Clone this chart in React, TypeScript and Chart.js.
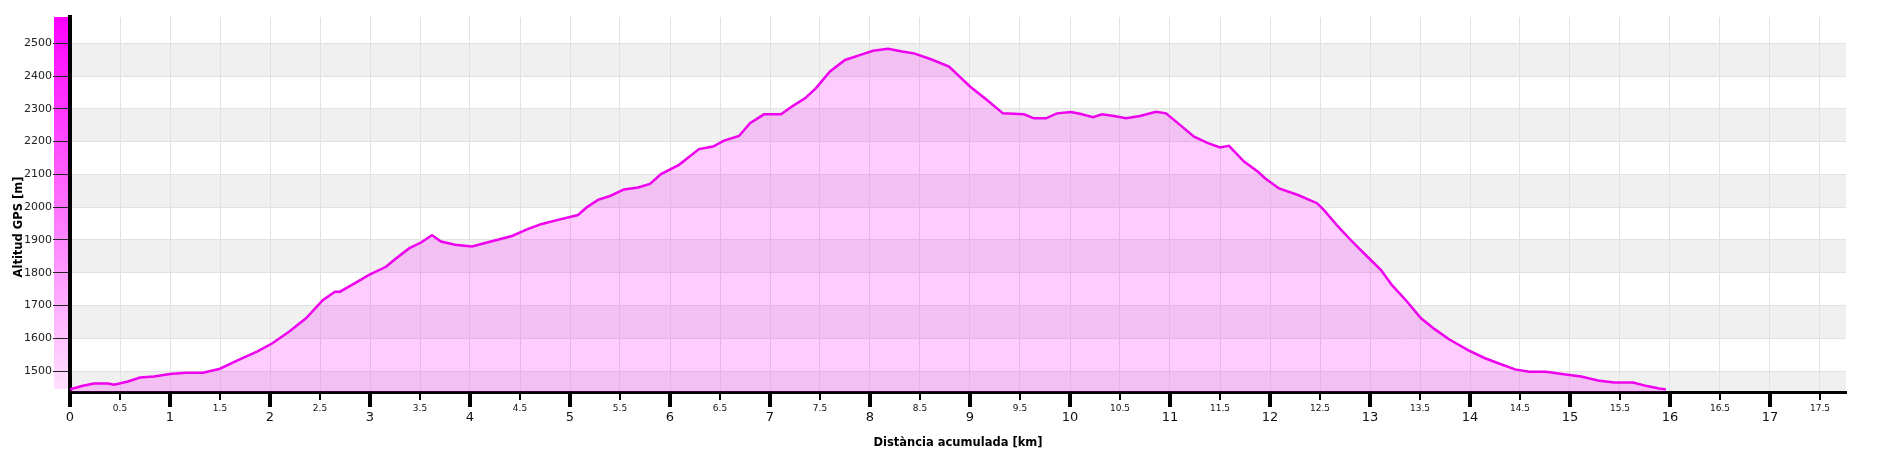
import React, { useEffect, useRef } from "react";
import { Chart, registerables } from "chart.js";

Chart.register(...registerables);

const distancesKm = [
  0, 0.13, 0.24, 0.38, 0.44, 0.58, 0.7, 0.84, 1.0, 1.16, 1.33, 1.5, 1.67, 1.87, 2.02, 2.19, 2.36, 2.53, 2.65, 2.7,
  2.85, 2.99, 3.16, 3.25, 3.39, 3.51, 3.62, 3.71, 3.85, 4.02, 4.17, 4.42, 4.57, 4.71, 4.88, 5.08, 5.17, 5.28, 5.4, 5.54,
  5.68, 5.8, 5.91, 6.09, 6.29, 6.43, 6.54, 6.69, 6.8, 6.94, 7.11, 7.23, 7.35, 7.46, 7.6, 7.75, 7.92, 8.03, 8.18, 8.32,
  8.44, 8.61, 8.79, 9.0, 9.17, 9.33, 9.54, 9.64, 9.76, 9.87, 10.01, 10.11, 10.23, 10.32, 10.44, 10.56, 10.7, 10.86, 10.96, 11.1,
  11.24, 11.38, 11.5, 11.59, 11.74, 11.88, 11.95, 12.09, 12.28, 12.47, 12.54, 12.68, 12.8, 12.89, 12.99, 13.11, 13.22, 13.37, 13.51, 13.65,
  13.79, 13.98, 14.15, 14.29, 14.45, 14.59, 14.76, 14.92, 15.11, 15.28, 15.44, 15.63, 15.77, 15.89, 15.96,
];

const altitudesM = [
  1444, 1455, 1462, 1462, 1458, 1468, 1480, 1483, 1491, 1495, 1495, 1507, 1532, 1559, 1584, 1620, 1661, 1717, 1742, 1742,
  1768, 1793, 1818, 1841, 1874, 1892, 1914, 1895, 1885, 1880, 1892, 1912, 1932, 1948, 1961, 1976, 2000, 2022, 2034, 2054,
  2060, 2071, 2101, 2129, 2177, 2185, 2203, 2217, 2256, 2283, 2283, 2309, 2332, 2363, 2414, 2449, 2466, 2477, 2483, 2475,
  2469, 2451, 2429, 2368, 2327, 2286, 2283, 2271, 2271, 2286, 2290, 2284, 2274, 2283, 2278, 2271, 2278, 2291, 2286, 2251,
  2215, 2195, 2182, 2187, 2139, 2108, 2088, 2057, 2037, 2012, 1991, 1941, 1902, 1874, 1844, 1808, 1762, 1712, 1661, 1627,
  1597, 1564, 1539, 1523, 1505, 1498, 1498, 1491, 1483, 1471, 1465, 1465, 1454, 1447, 1444,
];

const xAxisTitle = "Distància acumulada [km]";
const yAxisTitle = "Altitud GPS [m]";
const xRange = [0, 17.76];
const yRange = [1436, 2580];
const xStep = 0.5;
const yStep = 100;

const FONT = "'DejaVu Sans', Tahoma, Verdana, sans-serif";

const decorPlugin = {
  id: "decor",
  beforeDraw(chart: any) {
    const { ctx, chartArea } = chart;
    const y = chart.scales.y;
    ctx.save();
    ctx.fillStyle = "#f0f0f0";
    y.ticks.forEach((t: any) => {
      const v = t.value;
      if (Math.round(v / yStep) % 2 === 1) {
        const top = Math.max(y.getPixelForValue(v), chartArea.top);
        const bot = Math.min(y.getPixelForValue(v - yStep), chartArea.bottom);
        ctx.fillRect(chartArea.left, top, chartArea.right - chartArea.left, bot - top);
      }
    });
    const g = ctx.createLinearGradient(0, chartArea.top, 0, chartArea.bottom);
    g.addColorStop(0, "#ff00ff");
    g.addColorStop(1, "#ffe2ff");
    ctx.fillStyle = g;
    ctx.fillRect(chartArea.left - 16, chartArea.top, 14, chartArea.bottom - chartArea.top - 3);
    ctx.restore();
  },
  afterDraw(chart: any) {
    const { ctx, chartArea } = chart;
    const x = chart.scales.x;
    ctx.save();
    ctx.fillStyle = "#000";
    x.ticks.forEach((t: any) => {
      const px = x.getPixelForValue(t.value);
      const major = Math.abs(t.value - Math.round(t.value)) < 1e-6;
      if (major) ctx.fillRect(Math.round(px) - 2, chartArea.bottom, 4, 15);
      else ctx.fillRect(Math.round(px) - 1, chartArea.bottom, 2, 8);
    });
    ctx.fillStyle = "#000";
    ctx.font = `bold 11.5px ${FONT}`;
    ctx.textAlign = "center";
    ctx.textBaseline = "middle";
    ctx.fillText(xAxisTitle, (chartArea.left + chartArea.right) / 2, chartArea.bottom + 51);
    ctx.translate(19, chartArea.top + 210);
    ctx.rotate(-Math.PI / 2);
    ctx.font = `bold 11.5px ${FONT}`;
    ctx.fillText(yAxisTitle, 0, 0);
    ctx.restore();
  },
};

export default function App() {
  const ref = useRef<HTMLCanvasElement | null>(null);
  useEffect(() => {
    if (!ref.current) return;
    const points = distancesKm.map((d, i) => ({ x: d, y: altitudesM[i] }));
    const chart = new Chart(ref.current, {
      type: "line",
      data: {
        datasets: [
          {
            data: points,
            borderColor: "#ee00ee",
            borderWidth: 2.5,
            backgroundColor: "rgba(255,0,255,0.2)",
            fill: "start",
            pointRadius: 0,
            tension: 0,
          },
        ],
      },
      options: {
        animation: false,
        responsive: false,
        devicePixelRatio: 1,
        layout: { padding: { top: 17, right: 31, left: 0, bottom: 0 } },
        plugins: { legend: { display: false }, tooltip: { enabled: false } },
        scales: {
          x: {
            type: "linear",
            min: xRange[0],
            max: xRange[1],
            afterFit: (s: any) => {
              s.height = 61;
            },
            border: { display: true, color: "#000", width: 3 },
            grid: { color: "#e2e2e2", lineWidth: 1, drawTicks: true, tickLength: 13, tickColor: "rgba(0,0,0,0)" },
            ticks: {
              stepSize: xStep,
              includeBounds: false,
              autoSkip: false,
              maxRotation: 0,
              padding: 0,
              color: "#111",
              callback: (v: any) => String(v),
              font: (c: any) => {
                const v = c.tick ? c.tick.value : 0;
                const major = Math.abs(v - Math.round(v)) < 1e-6;
                return major
                  ? { family: FONT, size: 13, lineHeight: "26px" }
                  : { family: FONT, size: 9, lineHeight: "8px" };
              },
            },
          },
          y: {
            type: "linear",
            min: yRange[0],
            max: yRange[1],
            afterFit: (s: any) => {
              s.width = 70;
            },
            border: { display: true, color: "#000", width: 4 },
            grid: { color: "#e2e2e2", lineWidth: 1, tickLength: 17, tickColor: "#222", tickWidth: 1 },
            ticks: {
              stepSize: yStep,
              includeBounds: false,
              padding: 1,
              color: "#222",
              font: { family: FONT, size: 11 },
              callback: (v: any) => String(v),
            },
          },
        },
      },
      plugins: [decorPlugin],
    } as any);
    return () => chart.destroy();
  }, []);
  return (
    <div style={{ position: "fixed", left: 0, top: 0, width: 1877, height: 453, background: "#fff" }}>
      <canvas ref={ref} width={1877} height={453} style={{ display: "block" }} />
    </div>
  );
}
